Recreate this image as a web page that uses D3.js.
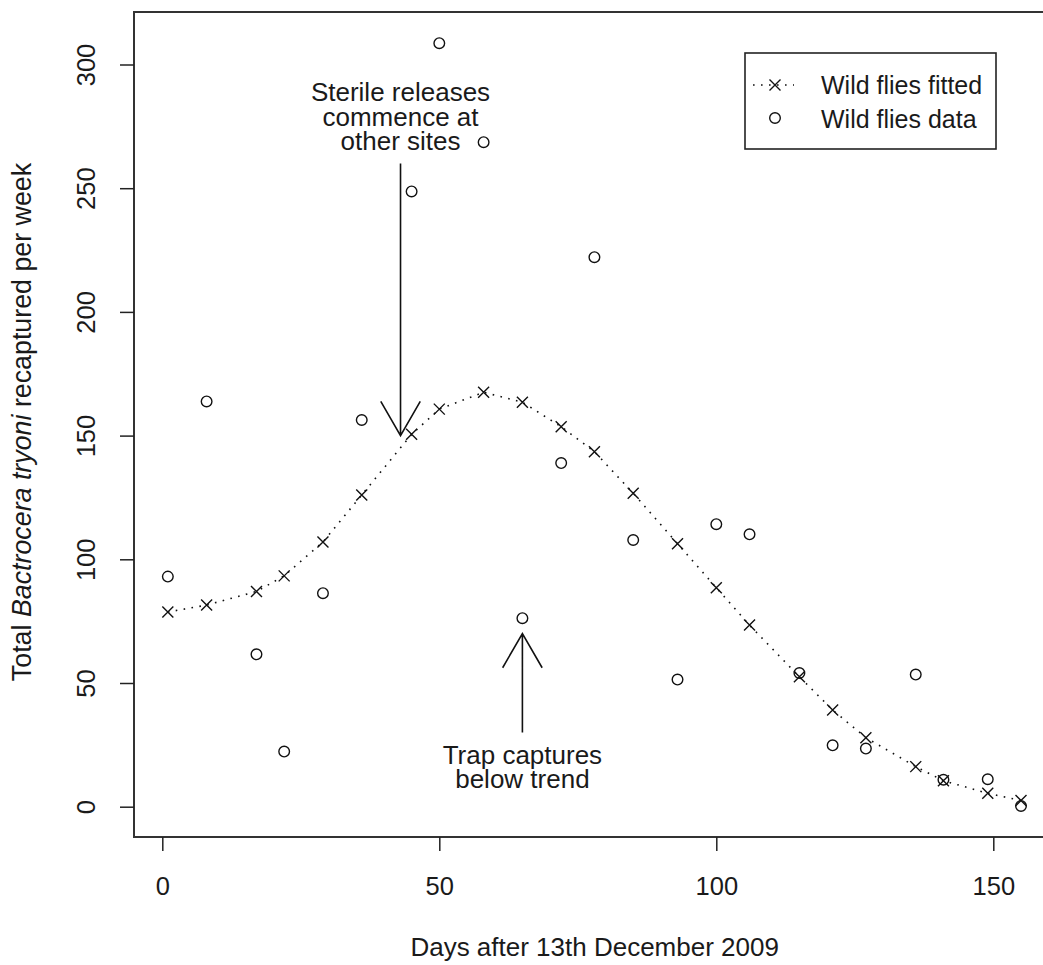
<!DOCTYPE html>
<html><head><meta charset="utf-8">
<script src="https://cdn.jsdelivr.net/npm/d3@7"></script>
<style>
body{margin:0;background:#fff}
svg{display:block}
text{font-family:"Liberation Sans",Arial,sans-serif;fill:#1a1a1a}
</style>
</head><body><svg id="c" width="1043" height="965"></svg>
<script>
// ---- data ----
const days = [1,8,17,22,29,36,45,50,58,65,72,78,85,93,100,106,115,121,127,136,141,149,155];
const fitted = [78.7,81.5,87,93.3,107,126,150.5,160.7,167.5,163.5,153.6,143.5,126.7,106.3,88.5,73.4,52.5,39.1,27.9,16.2,10.5,5.4,2.5];
const observed = [93,163.8,61.6,22.3,86.3,156.3,248.7,308.6,268.6,76.2,138.9,222.1,107.8,51.4,114.2,110.1,54,24.8,23.5,53.4,10.9,11.1,0.3];
const xTicks = [0,50,100,150];
const yTicks = [0,50,100,150,200,250,300];
const legendLabels = ["Wild flies fitted","Wild flies data"];
const annoRelease = {x:43, yFrom:260, yTo:150, lines:["Sterile releases","commence at","other sites"]};
const annoTrap = {x:65, yFrom:30, yTo:70, lines:["Trap captures","below trend"]};

const FS = 26;
const svg = d3.select("#c");
const x = d3.scaleLinear().domain([0,150]).range([162.3,993.3]);
const y = d3.scaleLinear().domain([0,300]).range([806.7,64.5]);
const box = {l:134, t:12, r:x(161.2), b:837};

// box
svg.append("rect").attr("x",box.l).attr("y",box.t).attr("width",box.r-box.l).attr("height",box.b-box.t)
  .attr("fill","none").attr("stroke","#333").attr("stroke-width",2);

// axes
const gx = svg.append("g").attr("transform",`translate(0,${box.b})`)
  .call(d3.axisBottom(x).tickValues(xTicks).tickSize(14).tickFormat(d3.format("d")));
gx.select(".domain").remove();
gx.selectAll("line").attr("stroke","#222").attr("stroke-width",1.5);
gx.selectAll("text").attr("y",58).attr("dy",0).style("font-size","25.5px").attr("fill","#1a1a1a");

const gy = svg.append("g").attr("transform",`translate(${box.l},0)`)
  .call(d3.axisLeft(y).tickValues(yTicks).tickSize(14).tickFormat(d3.format("d")));
gy.select(".domain").remove();
gy.selectAll("line").attr("stroke","#222").attr("stroke-width",1.5);
gy.selectAll("text").attr("transform","rotate(-90)").attr("x",0).attr("y",-39).attr("dy",0)
  .attr("text-anchor","middle").style("font-size","25.5px").attr("fill","#1a1a1a");

// axis titles
svg.append("text").attr("x",(box.l+box.r)/2).attr("y",956).attr("text-anchor","middle")
  .style("font-size",FS+"px").text("Days after 13th December 2009");
const yl = svg.append("text").attr("transform","translate(31,422) rotate(-90)").attr("text-anchor","middle")
  .style("font-size","26.8px");
yl.append("tspan").text("Total ");
yl.append("tspan").style("font-style","italic").text("Bactrocera tryoni");
yl.append("tspan").text(" recaptured per week");

// fitted dotted line
const pts = days.map((d,i)=>({d, f:fitted[i], o:observed[i]}));
svg.append("path").datum(pts)
  .attr("d", d3.line().x(p=>x(p.d)).y(p=>y(p.f)))
  .attr("fill","none").attr("stroke","#111").attr("stroke-width",1.6)
  .attr("stroke-dasharray","1.6,6.4").attr("stroke-linecap","butt");

const X = 5.5;
function cross(g, cx, cy){
  g.append("path").attr("d",`M${cx-X},${cy-X}L${cx+X},${cy+X}M${cx-X},${cy+X}L${cx+X},${cy-X}`)
   .attr("stroke","#111").attr("stroke-width",1.4).attr("fill","none");
}
const gf = svg.append("g");
pts.forEach(p=>cross(gf, x(p.d), y(p.f)));

svg.append("g").selectAll("circle").data(pts).join("circle")
  .attr("cx",p=>x(p.d)).attr("cy",p=>y(p.o)).attr("r",5.3)
  .attr("fill","none").attr("stroke","#111").attr("stroke-width",1.4);

// arrows
function arrow(a){
  const x0=x(a.x), y0=y(a.yFrom), y1=y(a.yTo);
  const dir = Math.sign(y1-y0);
  const L=39.5, ang=Math.PI/6;
  svg.append("path")
    .attr("d",`M${x0},${y0}L${x0},${y1}M${x0-L*Math.sin(ang)},${y1-dir*L*Math.cos(ang)}L${x0},${y1}L${x0+L*Math.sin(ang)},${y1-dir*L*Math.cos(ang)}`)
    .attr("fill","none").attr("stroke","#111").attr("stroke-width",1.6);
}
arrow(annoRelease); arrow(annoTrap);

function multiText(cx, firstBase, lines){
  const t = svg.append("text").attr("x",cx).attr("y",firstBase)
    .attr("text-anchor","middle").style("font-size",FS+"px");
  lines.forEach((s,i)=>t.append("tspan").attr("x",cx).attr("dy", i===0?0:24.5).text(s));
}
multiText(x(annoRelease.x), 101, annoRelease.lines);
multiText(x(annoTrap.x), 763.5, annoTrap.lines);

// legend
const lg = svg.append("g");
lg.append("rect").attr("x",745).attr("y",53).attr("width",251).attr("height",96)
  .attr("fill","#fff").attr("stroke","#222").attr("stroke-width",1.6);
lg.append("line").attr("x1",753).attr("x2",794).attr("y1",85).attr("y2",85)
  .attr("stroke","#111").attr("stroke-width",1.6).attr("stroke-dasharray","1.6,6.4");
cross(lg, 775, 85);
lg.append("circle").attr("cx",775).attr("cy",118).attr("r",5.3).attr("fill","none").attr("stroke","#111").attr("stroke-width",1.4);
legendLabels.forEach((s,i)=>lg.append("text").attr("x",821).attr("y",94+i*33.5).style("font-size","25px").text(s));
</script>
</body></html>
